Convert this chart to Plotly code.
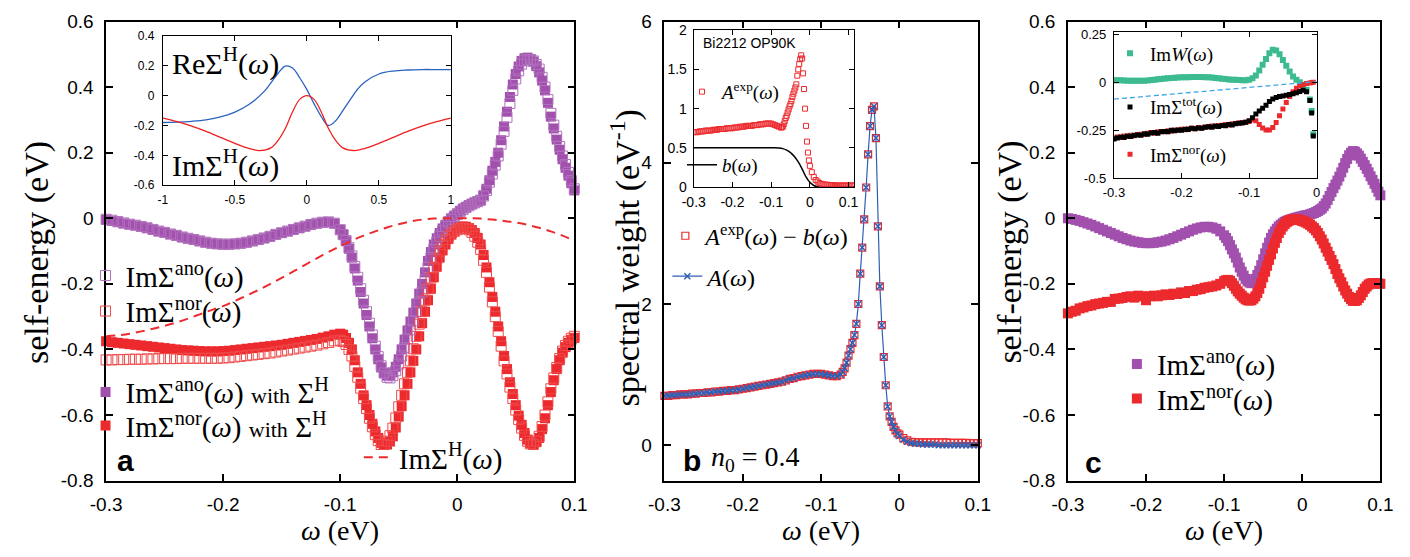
import numpy as np
import plotly.graph_objects as go

W, H = 1410, 557
SERIF = "Liberation Serif"
SANS = "Liberation Sans"
PURPLE = "#a250ae"
RED = "#ec2a2e"
BLUE_B = "#2f5fb3"
BLUE_IN = "#2a62c0"
GREEN = "#3dbb90"
LBLUE = "#3ea6e6"

# ---------------- panel a data ----------------
# omega grid: 0.005 eV steps below -0.1, 0.0025 eV steps from -0.1 to 0.1
w_a = np.round(np.concatenate([np.linspace(-0.3, -0.105, 40), np.linspace(-0.1, 0.1, 81)]), 5)
ano_filled_a = [-0.005, -0.008, -0.012, -0.016, -0.019, -0.022, -0.026, -0.030, -0.035, -0.040,
                -0.044, -0.049, -0.053, -0.058, -0.062, -0.066, -0.070, -0.074, -0.077, -0.079,
                -0.080, -0.080, -0.079, -0.077, -0.074, -0.070, -0.066, -0.061, -0.056, -0.050,
                -0.045, -0.040, -0.035, -0.030, -0.025, -0.020, -0.016, -0.013, -0.012, -0.016,
                -0.035, -0.050, -0.070, -0.093, -0.120, -0.153, -0.190, -0.225, -0.260, -0.295,
                -0.330, -0.366, -0.400, -0.430, -0.455, -0.472, -0.480, -0.478, -0.470, -0.453,
                -0.430, -0.400, -0.370, -0.342, -0.315, -0.288, -0.260, -0.230, -0.200, -0.165,
                -0.130, -0.103, -0.080, -0.061, -0.045, -0.031, -0.020, -0.009, 0.000, 0.008,
                0.015, 0.023, 0.030, 0.035, 0.040, 0.044, 0.048, 0.052, 0.056, 0.070,
                0.090, 0.116, 0.145, 0.172, 0.200, 0.238, 0.280, 0.325, 0.370, 0.408,
                0.440, 0.463, 0.480, 0.488, 0.490, 0.486, 0.478, 0.464, 0.445, 0.420,
                0.390, 0.352, 0.310, 0.274, 0.240, 0.209, 0.180, 0.154, 0.130, 0.107,
                0.085]
ano_open_a = [-0.003, -0.006, -0.010, -0.014, -0.018, -0.021, -0.025, -0.029, -0.034, -0.039,
              -0.043, -0.048, -0.052, -0.057, -0.061, -0.065, -0.069, -0.073, -0.076, -0.078,
              -0.079, -0.079, -0.078, -0.076, -0.073, -0.069, -0.065, -0.060, -0.055, -0.049,
              -0.044, -0.039, -0.034, -0.029, -0.024, -0.019, -0.015, -0.012, -0.011, -0.015,
              -0.035, -0.050, -0.068, -0.090, -0.115, -0.147, -0.180, -0.215, -0.250, -0.285,
              -0.320, -0.356, -0.390, -0.422, -0.450, -0.472, -0.485, -0.487, -0.480, -0.465,
              -0.445, -0.420, -0.395, -0.368, -0.340, -0.313, -0.285, -0.255, -0.225, -0.188,
              -0.150, -0.120, -0.095, -0.073, -0.055, -0.038, -0.025, -0.013, -0.003, 0.005,
              0.012, 0.020, 0.027, 0.033, 0.038, 0.043, 0.047, 0.051, 0.055, 0.068,
              0.085, 0.110, 0.135, 0.162, 0.190, 0.226, 0.265, 0.308, 0.350, 0.390,
              0.425, 0.450, 0.470, 0.480, 0.485, 0.484, 0.480, 0.469, 0.455, 0.430,
              0.400, 0.362, 0.320, 0.284, 0.250, 0.219, 0.190, 0.164, 0.140, 0.115,
              0.090]
nor_filled_a = [-0.375, -0.378, -0.380, -0.382, -0.384, -0.386, -0.388, -0.390, -0.392, -0.394,
                -0.396, -0.398, -0.400, -0.402, -0.403, -0.404, -0.405, -0.406, -0.406, -0.406,
                -0.405, -0.404, -0.402, -0.400, -0.398, -0.396, -0.394, -0.392, -0.390, -0.388,
                -0.386, -0.383, -0.380, -0.377, -0.374, -0.371, -0.368, -0.364, -0.360, -0.355,
                -0.352, -0.355, -0.365, -0.380, -0.400, -0.433, -0.470, -0.505, -0.540, -0.570,
                -0.600, -0.627, -0.650, -0.670, -0.685, -0.691, -0.690, -0.681, -0.665, -0.638,
                -0.605, -0.573, -0.540, -0.505, -0.470, -0.435, -0.400, -0.360, -0.320, -0.285,
                -0.250, -0.215, -0.180, -0.148, -0.120, -0.098, -0.080, -0.063, -0.050, -0.038,
                -0.030, -0.026, -0.025, -0.026, -0.030, -0.036, -0.045, -0.060, -0.080, -0.112,
                -0.150, -0.195, -0.240, -0.285, -0.330, -0.375, -0.420, -0.460, -0.500, -0.536,
                -0.570, -0.602, -0.630, -0.655, -0.675, -0.686, -0.690, -0.683, -0.670, -0.643,
                -0.610, -0.570, -0.530, -0.494, -0.460, -0.433, -0.410, -0.393, -0.380, -0.371,
                -0.365]
nor_open_a = [-0.432, -0.432, -0.431, -0.431, -0.430, -0.430, -0.430, -0.429, -0.429, -0.428,
              -0.428, -0.428, -0.428, -0.427, -0.427, -0.427, -0.427, -0.427, -0.427, -0.427,
              -0.426, -0.425, -0.423, -0.421, -0.419, -0.417, -0.415, -0.413, -0.411, -0.408,
              -0.405, -0.402, -0.399, -0.396, -0.393, -0.390, -0.387, -0.383, -0.379, -0.374,
              -0.372, -0.376, -0.385, -0.400, -0.420, -0.452, -0.485, -0.518, -0.550, -0.580,
              -0.610, -0.636, -0.660, -0.678, -0.690, -0.690, -0.680, -0.663, -0.640, -0.609,
              -0.575, -0.540, -0.505, -0.470, -0.435, -0.398, -0.360, -0.323, -0.285, -0.250,
              -0.215, -0.182, -0.150, -0.124, -0.100, -0.081, -0.065, -0.054, -0.045, -0.040,
              -0.035, -0.032, -0.030, -0.031, -0.035, -0.043, -0.055, -0.073, -0.095, -0.128,
              -0.165, -0.210, -0.255, -0.300, -0.345, -0.390, -0.435, -0.475, -0.515, -0.550,
              -0.585, -0.614, -0.640, -0.662, -0.680, -0.688, -0.690, -0.680, -0.665, -0.635,
              -0.600, -0.560, -0.520, -0.487, -0.455, -0.428, -0.405, -0.388, -0.375, -0.366,
              -0.360]
w_sh = np.round(np.linspace(-0.3, 0.1, 41), 3)
imsh_a = [-0.360, -0.357, -0.352, -0.345, -0.337, -0.328, -0.318, -0.306, -0.293, -0.280,
          -0.268, -0.252, -0.236, -0.219, -0.201, -0.182, -0.162, -0.142, -0.122, -0.103,
          -0.085, -0.068, -0.053, -0.040, -0.028, -0.018, -0.010, -0.004, -0.001, 0.000,
          0.000, 0.000, -0.001, -0.004, -0.008, -0.013, -0.020, -0.029, -0.040, -0.053, -0.068]

# inset a
w_re = [-1, -0.9, -0.8, -0.7, -0.6, -0.5, -0.4, -0.3, -0.25, -0.2, -0.15, -0.1, -0.05, 0,
        0.05, 0.1, 0.15, 0.2, 0.25, 0.3, 0.35, 0.4, 0.5, 0.6, 0.7, 0.8, 0.9, 1]
re_sh = [-0.180, -0.178, -0.172, -0.162, -0.143, -0.110, -0.058, 0.025, 0.085, 0.150, 0.198,
         0.185, 0.120, 0.040, -0.055, -0.140, -0.200, -0.168, -0.100, -0.028, 0.040, 0.090,
         0.145, 0.165, 0.172, 0.175, 0.175, 0.175]
w_im = [-1, -0.9, -0.8, -0.7, -0.6, -0.5, -0.4, -0.33, -0.25, -0.2, -0.15, -0.1, -0.05, 0,
        0.05, 0.1, 0.15, 0.2, 0.25, 0.33, 0.4, 0.5, 0.6, 0.7, 0.8, 0.9, 1]
im_sh = [-0.150, -0.175, -0.205, -0.240, -0.280, -0.320, -0.355, -0.368, -0.350, -0.300,
         -0.220, -0.110, -0.025, 0.000, -0.025, -0.110, -0.220, -0.300, -0.350, -0.368,
         -0.355, -0.320, -0.280, -0.240, -0.205, -0.175, -0.150]

# ---------------- panel b data ----------------
w_b = np.round(np.concatenate([np.linspace(-0.3, -0.075, 46),
                               np.linspace(-0.0725, -0.0025, 29),
                               np.linspace(0.0, 0.1, 21)]), 5)
a_model_b = [0.70, 0.70, 0.71, 0.71, 0.72, 0.72, 0.72, 0.73, 0.73, 0.74,
             0.74, 0.75, 0.75, 0.76, 0.76, 0.77, 0.77, 0.78, 0.78, 0.79,
             0.80, 0.81, 0.82, 0.83, 0.84, 0.85, 0.86, 0.87, 0.88, 0.89,
             0.90, 0.92, 0.94, 0.95, 0.97, 0.98, 0.99, 1.00, 1.01, 1.01,
             1.01, 1.00, 0.99, 0.98, 0.98, 1.00,
             1.04, 1.09, 1.17, 1.27, 1.36, 1.45, 1.56, 1.72, 2.00, 2.43,
             2.80, 3.20, 3.65, 4.12, 4.52, 4.75, 4.80, 4.35, 3.10, 2.25,
             1.70, 1.25, 0.85, 0.55, 0.41, 0.33, 0.26, 0.21, 0.16,
             0.13, 0.08, 0.05, 0.03, 0.02, 0.02, 0.01, 0.01, 0.01, 0.01,
             0.00, 0.00, 0.00, 0.00, 0.00, 0.00, 0.00, 0.00, 0.00, 0.00, 0.00]
a_exp_minus_b = [0.70, 0.70, 0.71, 0.71, 0.72, 0.72, 0.72, 0.73, 0.73, 0.74,
                 0.74, 0.75, 0.75, 0.76, 0.76, 0.77, 0.77, 0.78, 0.78, 0.79,
                 0.80, 0.81, 0.82, 0.83, 0.84, 0.85, 0.86, 0.87, 0.88, 0.89,
                 0.90, 0.92, 0.94, 0.95, 0.97, 0.98, 0.99, 1.00, 1.01, 1.01,
                 1.01, 1.00, 0.99, 0.98, 0.98, 1.00,
                 1.04, 1.09, 1.17, 1.27, 1.36, 1.45, 1.56, 1.72, 2.00, 2.43,
                 2.80, 3.20, 3.65, 4.12, 4.52, 4.75, 4.80, 4.35, 3.10, 2.25,
                 1.70, 1.25, 0.85, 0.55, 0.41, 0.33, 0.26, 0.21, 0.17,
                 0.15, 0.10, 0.07, 0.05, 0.045, 0.04, 0.04, 0.04, 0.04, 0.04,
                 0.04, 0.04, 0.04, 0.035, 0.035, 0.035, 0.035, 0.035, 0.03, 0.03, 0.03]

# inset b
w_bin = np.round(np.concatenate([np.linspace(-0.3, -0.075, 46),
                                 np.linspace(-0.0725, -0.0025, 29),
                                 np.linspace(0.0, 0.115, 24)]), 5)
a_exp_in = [0.70, 0.70, 0.70, 0.71, 0.71, 0.71, 0.72, 0.72, 0.72, 0.72,
            0.73, 0.73, 0.73, 0.74, 0.74, 0.74, 0.74, 0.75, 0.75, 0.75,
            0.75, 0.76, 0.76, 0.76, 0.77, 0.77, 0.77, 0.78, 0.78, 0.78,
            0.78, 0.79, 0.79, 0.79, 0.80, 0.80, 0.80, 0.81, 0.81, 0.81,
            0.81, 0.80, 0.79, 0.78, 0.77, 0.76,
            0.76, 0.77, 0.80, 0.84, 0.88, 0.91, 0.95, 0.99, 1.03, 1.06,
            1.10, 1.15, 1.19, 1.23, 1.27, 1.31, 1.42, 1.50, 1.57, 1.63,
            1.68, 1.64, 1.45, 1.25, 1.00, 0.78, 0.58, 0.44, 0.34,
            0.27, 0.19, 0.13, 0.09, 0.07, 0.05, 0.04, 0.035, 0.03, 0.03,
            0.025, 0.025, 0.025, 0.02, 0.02, 0.02, 0.02, 0.02, 0.02, 0.02,
            0.02, 0.02, 0.02, 0.02]
w_bg = [-0.3, -0.1, -0.08, -0.07, -0.06, -0.05, -0.04, -0.03, -0.02, -0.01, 0.0, 0.01, 0.02,
        0.03, 0.05, 0.115]
bg_in = [0.5, 0.5, 0.498, 0.49, 0.47, 0.44, 0.39, 0.32, 0.23, 0.13, 0.06, 0.02, 0.005, 0.0,
         0.0, 0.0]

# ---------------- panel c data ----------------
w_c = np.round(np.concatenate([np.linspace(-0.3, -0.105, 40), np.linspace(-0.1, 0.1, 81)]), 5)
ano_c = [0.000, -0.002, -0.005, -0.008, -0.012, -0.016, -0.020, -0.025, -0.030, -0.035,
         -0.040, -0.045, -0.050, -0.055, -0.060, -0.064, -0.068, -0.071, -0.073, -0.075,
         -0.076, -0.076, -0.075, -0.073, -0.071, -0.068, -0.064, -0.060, -0.055, -0.050,
         -0.045, -0.040, -0.035, -0.031, -0.028, -0.026, -0.026, -0.028, -0.032, -0.040,
         -0.052, -0.060, -0.070, -0.082, -0.095, -0.107, -0.120, -0.135, -0.150, -0.163,
         -0.175, -0.185, -0.192, -0.196, -0.198, -0.193, -0.185, -0.173, -0.160, -0.143,
         -0.125, -0.107, -0.090, -0.074, -0.060, -0.049, -0.040, -0.032, -0.025, -0.020,
         -0.015, -0.011, -0.008, -0.006, -0.004, -0.002, 0.000, 0.002, 0.003, 0.005,
         0.006, 0.008, 0.009, 0.010, 0.012, 0.014, 0.016, 0.019, 0.022, 0.026,
         0.030, 0.037, 0.045, 0.056, 0.068, 0.080, 0.092, 0.103, 0.115, 0.127,
         0.140, 0.154, 0.168, 0.181, 0.192, 0.200, 0.205, 0.203, 0.198, 0.191,
         0.182, 0.172, 0.162, 0.151, 0.140, 0.128, 0.117, 0.105, 0.093, 0.081,
         0.070]
nor_c = [-0.290, -0.285, -0.282, -0.275, -0.272, -0.268, -0.266, -0.262, -0.260, -0.258,
         -0.255, -0.255, -0.246, -0.245, -0.243, -0.240, -0.238, -0.242, -0.236, -0.238,
         -0.250, -0.238, -0.236, -0.238, -0.235, -0.232, -0.234, -0.230, -0.231, -0.226,
         -0.228, -0.222, -0.222, -0.218, -0.216, -0.212, -0.210, -0.208, -0.205, -0.200,
         -0.192, -0.189, -0.188, -0.191, -0.198, -0.206, -0.215, -0.223, -0.230, -0.236,
         -0.242, -0.247, -0.250, -0.251, -0.250, -0.245, -0.238, -0.228, -0.215, -0.198,
         -0.180, -0.163, -0.145, -0.127, -0.110, -0.092, -0.075, -0.060, -0.045, -0.035,
         -0.025, -0.018, -0.012, -0.008, -0.005, -0.004, -0.003, -0.003, -0.004, -0.006,
         -0.008, -0.010, -0.013, -0.016, -0.020, -0.025, -0.030, -0.037, -0.045, -0.055,
         -0.065, -0.077, -0.090, -0.102, -0.115, -0.127, -0.140, -0.155, -0.170, -0.183,
         -0.195, -0.208, -0.220, -0.230, -0.240, -0.247, -0.252, -0.252, -0.250, -0.243,
         -0.235, -0.225, -0.215, -0.208, -0.202, -0.199, -0.198, -0.198, -0.198, -0.199,
         -0.200]

# inset c
w_cin = np.round(np.concatenate([np.linspace(-0.3, -0.01, 59), [-0.0075, -0.005]]), 5)
imw_c = [0.010, 0.010, 0.010, 0.009, 0.008, 0.008, 0.007, 0.007, 0.007, 0.008,
         0.009, 0.011, 0.013, 0.015, 0.017, 0.019, 0.020, 0.022, 0.023, 0.024,
         0.025, 0.026, 0.026, 0.027, 0.027, 0.027, 0.027, 0.026, 0.025, 0.024,
         0.022, 0.020, 0.018, 0.016, 0.014, 0.013, 0.012, 0.011, 0.010, 0.010,
         0.012, 0.020, 0.035, 0.060, 0.090, 0.120, 0.150, 0.168, 0.165, 0.145,
         0.115, 0.085, 0.055, 0.030, 0.012, 0.000, -0.015, -0.040, -0.090, -0.150, -0.270]
nor_cin = [-0.290, -0.285, -0.288, -0.280, -0.282, -0.276, -0.278, -0.272, -0.270, -0.272,
           -0.265, -0.262, -0.265, -0.258, -0.256, -0.258, -0.252, -0.255, -0.248, -0.250,
           -0.245, -0.247, -0.242, -0.240, -0.242, -0.236, -0.238, -0.233, -0.232, -0.228,
           -0.230, -0.225, -0.224, -0.220, -0.222, -0.216, -0.215, -0.212, -0.210, -0.208,
           -0.205, -0.195, -0.200, -0.220, -0.238, -0.248, -0.248, -0.235, -0.210, -0.175,
           -0.140, -0.105, -0.075, -0.050, -0.032, -0.020, -0.012, -0.007, -0.004, -0.002, 0.000]
tot_cin = [-0.295, -0.290, -0.285, -0.288, -0.280, -0.282, -0.276, -0.274, -0.276, -0.268,
           -0.270, -0.264, -0.262, -0.265, -0.258, -0.256, -0.258, -0.250, -0.253, -0.248,
           -0.250, -0.244, -0.246, -0.240, -0.242, -0.238, -0.240, -0.234, -0.232, -0.234,
           -0.228, -0.230, -0.225, -0.226, -0.220, -0.222, -0.216, -0.214, -0.212, -0.208,
           -0.200, -0.185, -0.165, -0.150, -0.135, -0.120, -0.100, -0.088, -0.080, -0.075,
           -0.072, -0.068, -0.064, -0.060, -0.055, -0.048, -0.042, -0.050, -0.095, -0.160, -0.280]
w_dash_c = [-0.3, 0.0]
dash_c = [-0.088, 0.003]

# tick labels
ticks_x_main = [-0.3, -0.2, -0.1, 0, 0.1]
ticklab_x_main = ["-0.3", "-0.2", "-0.1", "0", "0.1"]
ticks_y_ac = [-0.8, -0.6, -0.4, -0.2, 0, 0.2, 0.4, 0.6]
ticklab_y_ac = ["-0.8", "-0.6", "-0.4", "-0.2", "0", "0.2", "0.4", "0.6"]
ticks_y_b = [0, 2, 4, 6]
ticklab_y_b = ["0", "2", "4", "6"]
ticks_x_ina = [-1, -0.5, 0, 0.5, 1]
ticklab_x_ina = ["-1", "-0.5", "0", "0.5", "1"]
ticks_y_ina = [-0.6, -0.4, -0.2, 0, 0.2, 0.4]
ticklab_y_ina = ["-0.6", "-0.4", "-0.2", "0", "0.2", "0.4"]
ticks_x_inb = [-0.3, -0.2, -0.1, 0, 0.1]
ticklab_x_inb = ["-0.3", "-0.2", "-0.1", "0", "0.1"]
ticks_y_inb = [0, 0.5, 1, 1.5, 2]
ticklab_y_inb = ["0", "0.5", "1", "1.5", "2"]
ticks_x_inc = [-0.3, -0.2, -0.1, 0]
ticklab_x_inc = ["-0.3", "-0.2", "-0.1", "0"]
ticks_y_inc = [-0.5, -0.25, 0, 0.25]
ticklab_y_inc = ["-0.5", "-0.25", "0", "0.25"]


def fx(p):
    return p / W


def fy(p):
    return 1 - p / H


def axis(x0, x1, rng, tv, tt, anchor, fsize, tlen, standoff, lw=1.5):
    return dict(domain=[fx(x0), fx(x1)], range=rng, tickvals=tv, ticktext=tt, anchor=anchor,
                showline=True, mirror="ticks", linecolor="black", linewidth=lw,
                ticks="inside", ticklen=tlen, tickwidth=lw, tickcolor="black",
                showgrid=False, zeroline=False, ticklabelstandoff=standoff,
                tickfont=dict(family=SANS, size=fsize, color="black"), fixedrange=True)


def yaxis(y0, y1, rng, tv, tt, anchor, fsize, tlen, standoff, lw=1.5):
    d = axis(0, 1, rng, tv, tt, anchor, fsize, tlen, standoff, lw)
    d["domain"] = [fy(y1), fy(y0)]
    return d


def leg(xpx, ypx, size):
    return dict(x=fx(xpx), y=fy(ypx), xanchor="left", yanchor="middle",
                bgcolor="rgba(0,0,0,0)", borderwidth=0,
                font=dict(family=SERIF, size=size, color="black"),
                itemwidth=30, tracegroupgap=0, itemclick=False, itemdoubleclick=False)


fig = go.Figure()

# panel a traces
WITH = "<span style='font-size:22px'>with</span>"
fig.add_trace(go.Scatter(x=w_a, y=ano_filled_a, xaxis="x", yaxis="y", mode="markers",
                         marker=dict(symbol="square", size=10, color=PURPLE),
                         name="ImΣ<sup>ano</sup>(<i>ω</i>) " + WITH + " Σ<sup>H</sup>",
                         legend="legend3", cliponaxis=False))
fig.add_trace(go.Scatter(x=w_a, y=nor_filled_a, xaxis="x", yaxis="y", mode="markers",
                         marker=dict(symbol="square", size=10, color=RED),
                         name="ImΣ<sup>nor</sup>(<i>ω</i>) " + WITH + " Σ<sup>H</sup>",
                         legend="legend4", cliponaxis=False))
fig.add_trace(go.Scatter(x=w_a, y=ano_open_a, xaxis="x", yaxis="y", mode="markers",
                         marker=dict(symbol="square-open", size=10, color="#b070bc",
                                     line=dict(width=1, color="#b070bc")),
                         name="ImΣ<sup>ano</sup>(<i>ω</i>)", legend="legend", cliponaxis=False))
fig.add_trace(go.Scatter(x=w_a, y=nor_open_a, xaxis="x", yaxis="y", mode="markers",
                         marker=dict(symbol="square-open", size=10, color="#f04a4a",
                                     line=dict(width=1, color="#f04a4a")),
                         name="ImΣ<sup>nor</sup>(<i>ω</i>)", legend="legend2", cliponaxis=False))
fig.add_trace(go.Scatter(x=w_sh, y=imsh_a, xaxis="x", yaxis="y", mode="lines",
                         line=dict(color=RED, width=2, dash="9px,6px", shape="spline"),
                         name="ImΣ<sup>H</sup>(<i>ω</i>)", legend="legend5"))

# inset a
fig.add_trace(go.Scatter(x=w_re, y=re_sh, xaxis="x4", yaxis="y4", mode="lines",
                         line=dict(color=BLUE_IN, width=1.3, shape="spline"), showlegend=False))
fig.add_trace(go.Scatter(x=w_im, y=im_sh, xaxis="x4", yaxis="y4", mode="lines",
                         line=dict(color="#ee2020", width=1.3, shape="spline"), showlegend=False))

# panel b
fig.add_trace(go.Scatter(x=w_b, y=a_exp_minus_b, xaxis="x2", yaxis="y2", mode="markers",
                         marker=dict(symbol="square-open", size=7, color=RED,
                                     line=dict(width=1.2, color=RED)),
                         name="<i>A</i><sup>exp</sup>(<i>ω</i>) − <i>b</i>(<i>ω</i>)",
                         legend="legend6", cliponaxis=False))
fig.add_trace(go.Scatter(x=w_b, y=a_model_b, xaxis="x2", yaxis="y2", mode="lines+markers",
                         line=dict(color=BLUE_B, width=1.2),
                         marker=dict(symbol="x-thin", size=6, color=BLUE_B,
                                     line=dict(width=1.5, color=BLUE_B)),
                         name="<i>A</i>(<i>ω</i>)", legend="legend7", cliponaxis=False))

# inset b
fig.add_trace(go.Scatter(x=w_bg, y=bg_in, xaxis="x5", yaxis="y5", mode="lines",
                         line=dict(color="black", width=1.5, shape="spline"),
                         name="<i>b</i>(<i>ω</i>)", legend="legend9"))
fig.add_trace(go.Scatter(x=w_bin, y=a_exp_in, xaxis="x5", yaxis="y5", mode="markers",
                         marker=dict(symbol="square-open", size=5, color=RED,
                                     line=dict(width=1, color=RED)),
                         name="<i>A</i><sup>exp</sup>(<i>ω</i>)", legend="legend8"))

# panel c
fig.add_trace(go.Scatter(x=w_c, y=ano_c, xaxis="x3", yaxis="y3", mode="markers",
                         marker=dict(symbol="square", size=10, color=PURPLE),
                         name="ImΣ<sup>ano</sup>(<i>ω</i>)", legend="legend10", cliponaxis=False))
fig.add_trace(go.Scatter(x=w_c, y=nor_c, xaxis="x3", yaxis="y3", mode="markers",
                         marker=dict(symbol="square", size=10, color=RED),
                         name="ImΣ<sup>nor</sup>(<i>ω</i>)", legend="legend11", cliponaxis=False))

# inset c
fig.add_trace(go.Scatter(x=w_cin, y=imw_c, xaxis="x6", yaxis="y6", mode="markers",
                         marker=dict(symbol="square", size=6, color=GREEN),
                         name="Im<i>W</i>(<i>ω</i>)", legend="legend12"))
fig.add_trace(go.Scatter(x=w_cin, y=nor_cin, xaxis="x6", yaxis="y6", mode="markers",
                         marker=dict(symbol="square", size=5, color=RED),
                         name="ImΣ<sup>nor</sup>(<i>ω</i>)", legend="legend14"))
fig.add_trace(go.Scatter(x=w_cin, y=tot_cin, xaxis="x6", yaxis="y6", mode="markers",
                         marker=dict(symbol="square", size=5, color="black"),
                         name="ImΣ<sup>tot</sup>(<i>ω</i>)", legend="legend13"))
fig.add_trace(go.Scatter(x=w_dash_c, y=dash_c, xaxis="x6", yaxis="y6", mode="lines",
                         line=dict(color=LBLUE, width=1.3, dash="5px,3px"), showlegend=False))

TOP, BOT = 12, 489
layout = dict(
    width=W, height=H, margin=dict(l=0, r=0, t=0, b=0),
    paper_bgcolor="white", plot_bgcolor="white", showlegend=True,
    xaxis=axis(92, 570, [-0.3, 0.1], ticks_x_main, ticklab_x_main, "y", 19, 7, 6),
    yaxis=yaxis(TOP, BOT, [-0.8, 0.6], ticks_y_ac, ticklab_y_ac, "x", 19, 7, 7),
    xaxis2=axis(662, 982, [-0.3, 0.1], ticks_x_main, ticklab_x_main, "y2", 19, 7, 6),
    yaxis2=yaxis(TOP, BOT, [-0.5, 6.0], ticks_y_b, ticklab_y_b, "x2", 19, 7, 7),
    xaxis3=axis(1074, 1393, [-0.3, 0.1], ticks_x_main, ticklab_x_main, "y3", 19, 7, 6),
    yaxis3=yaxis(TOP, BOT, [-0.8, 0.6], ticks_y_ac, ticklab_y_ac, "x3", 19, 7, 7),
    xaxis4=axis(150, 444, [-1, 1], ticks_x_ina, ticklab_x_ina, "y4", 12, 5, 3, 1.2),
    yaxis4=yaxis(27, 182, [-0.6, 0.4], ticks_y_ina, ticklab_y_ina, "x4", 12, 5, 5, 1.2),
    xaxis5=axis(692, 856, [-0.3, 0.115], ticks_x_inb, ticklab_x_inb, "y5", 14, 5, 2, 1.2),
    yaxis5=yaxis(21, 184, [0, 2], ticks_y_inb, ticklab_y_inb, "x5", 14, 5, 3, 1.2),
    xaxis6=axis(1121, 1328, [-0.3, 0.0], ticks_x_inc, ticklab_x_inc, "y6", 13, 5, 2, 1.2),
    yaxis6=yaxis(23, 175, [-0.5, 0.26], ticks_y_inc, ticklab_y_inc, "x6", 13, 5, 4, 1.2),
    legend=leg(71, 276, 29),
    legend2=leg(71, 313, 29),
    legend3=leg(71, 397, 29),
    legend4=leg(71, 432, 29),
    legend5=leg(350, 465, 29),
    legend6=leg(663, 235, 24),
    legend7=leg(665, 277, 24),
    legend8=leg(680, 85, 19),
    legend9=leg(680, 161, 19),
    legend10=leg(1124, 368, 29),
    legend11=leg(1124, 404, 29),
    legend12=leg(1117, 45, 19),
    legend13=leg(1117, 101, 19),
    legend14=leg(1117, 150, 19),
)


def ann(x, y, text, size, family=SERIF, xanchor="center", angle=0, color="black"):
    return dict(x=fx(x), y=fy(y), xref="paper", yref="paper", text=text, showarrow=False,
                font=dict(family=family, size=size, color=color), xanchor=xanchor,
                yanchor="middle", textangle=angle)


annotations = [
    ann(331, 541, "<i>ω</i> (eV)", 28),
    ann(822, 541, "<i>ω</i> (eV)", 28),
    ann(1233, 541, "<i>ω</i> (eV)", 28),
    ann(22, 252, "self-energy (eV)", 34, angle=-90),
    ann(622, 258, "spectral weight (eV<sup>-1</sup>)", 34, angle=-90),
    ann(1015, 252, "self-energy (eV)", 34, angle=-90),
    ann(157, 53, "ReΣ<sup>H</sup>(<i>ω</i>)", 30, xanchor="left"),
    ann(157, 160, "ImΣ<sup>H</sup>(<i>ω</i>)", 30, xanchor="left"),
    ann(699, 34, "Bi2212 OP90K", 14, family=SANS, xanchor="left"),
    ann(112, 468, "<b>a</b>", 30, family=SANS),
    ann(690, 468, "<b>b</b>", 30, family=SANS),
    ann(1100, 470, "<b>c</b>", 30, family=SANS),
    ann(708, 466, "<i>n</i><sub>0</sub> = 0.4", 28, xanchor="left"),
]
layout["annotations"] = annotations
fig.update_layout(**layout)
fig.write_html("out.html")
